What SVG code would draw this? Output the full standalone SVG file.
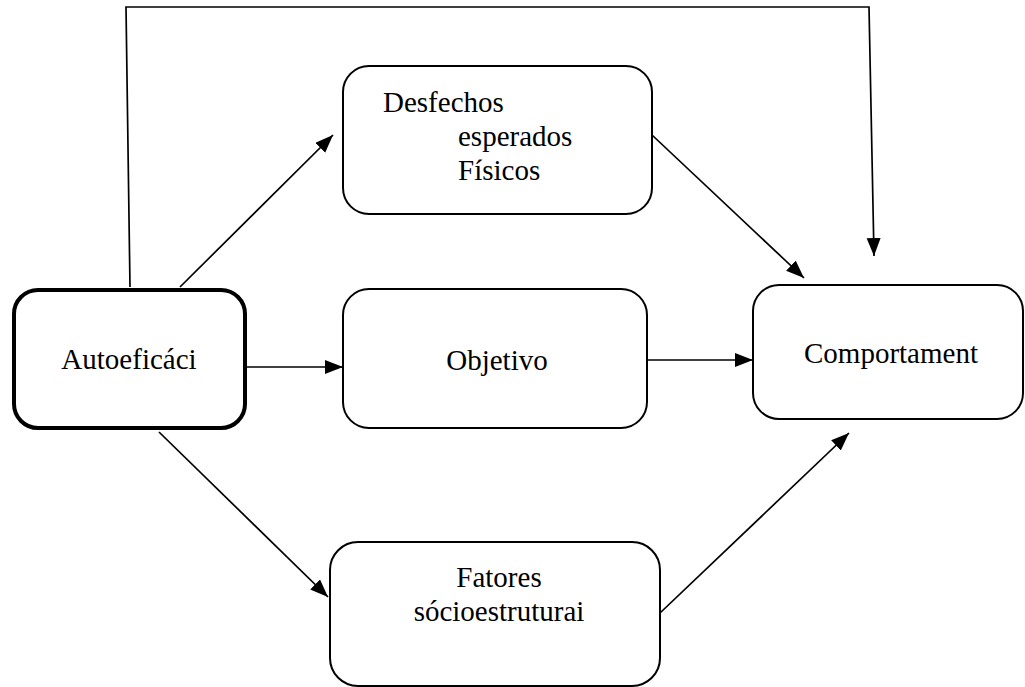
<svg xmlns="http://www.w3.org/2000/svg" width="1025" height="687" viewBox="0 0 1025 687">
<style>
.box{fill:#fff;stroke:#000;stroke-width:2}
.thick{stroke-width:4}
.lbl{font-family:"Liberation Serif","Times New Roman",serif;font-size:29px;fill:#000}
.mid{text-anchor:middle}
.con{fill:none;stroke:#000;stroke-width:1.7}
</style>
<defs>
<marker id="arr" markerUnits="userSpaceOnUse" markerWidth="20" markerHeight="16" refX="18" refY="7" orient="auto">
<path d="M0,0 L18,7 L0,14 z" fill="#000"/>
</marker>
</defs>
<rect width="1025" height="687" fill="#fff"/>
<g id="connectors">
<polyline class="con" points="130,287 126,7 869,7 874,256" marker-end="url(#arr)"/>
<line class="con" x1="180" y1="287" x2="333" y2="135" marker-end="url(#arr)"/>
<line class="con" x1="245" y1="367" x2="343" y2="367" marker-end="url(#arr)"/>
<line class="con" x1="159" y1="432" x2="328" y2="597" marker-end="url(#arr)"/>
<line class="con" x1="652" y1="135" x2="804" y2="278" marker-end="url(#arr)"/>
<line class="con" x1="647" y1="360" x2="753" y2="360" marker-end="url(#arr)"/>
<line class="con" x1="660" y1="613" x2="849" y2="433" marker-end="url(#arr)"/>
</g>
<g id="autoeficacia">
<rect class="box thick" x="14" y="290" width="231" height="138" rx="24"/>
<text class="lbl mid" x="129" y="369">Autoeficáci</text>
</g>
<g id="desfechos">
<rect class="box" x="343" y="66" width="309" height="148" rx="26"/>
<text class="lbl" x="383" y="112">Desfechos</text>
<text class="lbl" x="458" y="146">esperados</text>
<text class="lbl" x="458" y="180">Físicos</text>
</g>
<g id="objetivo">
<rect class="box" x="343" y="289" width="304" height="139" rx="26"/>
<text class="lbl mid" x="497" y="370">Objetivo</text>
</g>
<g id="comportamento">
<rect class="box" x="753" y="285" width="270" height="134" rx="26"/>
<text class="lbl mid" x="891" y="363">Comportament</text>
</g>
<g id="fatores">
<rect class="box" x="330" y="542" width="330" height="144" rx="28"/>
<text class="lbl mid" x="499" y="587">Fatores</text>
<text class="lbl mid" x="499" y="621">sócioestruturai</text>
</g>
</svg>
